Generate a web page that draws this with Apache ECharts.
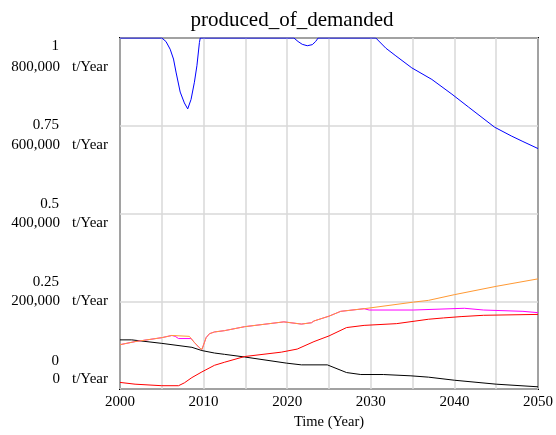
<!DOCTYPE html>
<html>
<head>
<meta charset="utf-8">
<script src="https://cdn.jsdelivr.net/npm/echarts@6/dist/echarts.min.js"></script>
<style>
  html, body { margin: 0; padding: 0; background: #fff; }
  #chart { width: 556px; height: 435px; }
</style>
</head>
<body>
<div id="chart"></div>
<script>
// produced_of_demanded (fraction, 0..1)
const fracYears = [2000, 2005, 2005.5, 2006, 2006.4, 2006.7, 2007.2, 2007.7, 2008.1, 2008.5, 2008.9, 2009.2, 2009.5, 2009.6,
  2020.8, 2021.3, 2021.8, 2022.4, 2023.0, 2023.4, 2023.7,
  2030.6, 2031.8, 2033, 2034.9, 2037.3, 2039.7, 2041.7, 2044.8, 2046.8, 2048.2, 2050];
const fracValues = [1, 1, 0.99, 0.968, 0.94, 0.903, 0.846, 0.815, 0.798, 0.825, 0.874, 0.921, 0.987, 1,
  1, 0.99, 0.982, 0.978, 0.981, 0.99, 1,
  1, 0.971, 0.949, 0.915, 0.882, 0.84, 0.803, 0.746, 0.721, 0.705, 0.685];

// orange series (t/Year)
const orangeYears = [2000, 2001.8, 2005, 2006.2, 2008.3, 2008.9, 2009.5, 2009.8, 2010.3, 2010.7, 2011.3, 2012.5, 2014.9,
  2019.6, 2021.7, 2022.9, 2023.2, 2025, 2026.4, 2029.2, 2035.1, 2036.9, 2040, 2045, 2050];
const orangeValues = [101000, 108000, 117000, 122000, 120000, 106000, 94000, 90000, 117000, 126000, 130000, 133000, 142000,
  153000, 148000, 151000, 155000, 166000, 177000, 183000, 198000, 202000, 215000, 234000, 251000];

// magenta series (t/Year)
const magentaYears = [2000, 2001.8, 2005, 2006.2, 2006.6, 2007.0, 2008.5, 2008.9, 2009.5, 2009.8, 2010.3, 2010.7, 2011.3, 2012.5, 2014.9,
  2019.6, 2021.7, 2022.9, 2023.2, 2025, 2026.4, 2029.2, 2029.8, 2035.1, 2035.3, 2041.2, 2041.4, 2043.5, 2043.7, 2048.2, 2048.4, 2050];
const magentaValues = [101000, 108000, 117000, 122000, 120000, 115000, 115000, 106000, 94000, 90000, 117000, 126000, 130000, 133000, 142000,
  153000, 148000, 151000, 155000, 166000, 177000, 183000, 180000, 180000, 184000, 184000, 180000, 180000, 177000, 177000, 174000, 174000];

// red series (t/Year)
const redYears = [2000, 2001.8, 2005, 2007, 2007.7, 2008.6, 2009.8, 2011.3, 2012.5, 2014.9, 2019.3, 2021.2, 2023.2, 2025,
  2027.1, 2029.2, 2033.1, 2036.9, 2038.7, 2040.8, 2043.5, 2050];
const redValues = [15000, 11000, 7500, 7500, 14000, 26000, 39000, 54000, 61000, 74000, 84000, 91000, 108000, 121000,
  140000, 145000, 149000, 159000, 162000, 165000, 168000, 170000];

// black series (t/Year)
const blackYears = [2000, 2001.4, 2001.6, 2005, 2008.6, 2009.8, 2011.3, 2012.5, 2014.9, 2019.9, 2021.7, 2024.8, 2027.1, 2028.8,
  2031.5, 2034.8, 2036.9, 2040, 2045, 2050];
const blackValues = [112000, 112000, 109000, 104000, 95000, 87600, 82000, 79000, 73000, 59000, 55000, 55000, 37500, 33000,
  33000, 30000, 27000, 20000, 11000, 5000];

// axis tick labels
const fracTicks = [0, 0.25, 0.5, 0.75, 1];
const fracTickText = ['0', '0.25', '0.5', '0.75', '1'];
const flowTicks = [0, 200000, 400000, 600000, 800000];
const flowTickText = ['0', '200,000', '400,000', '600,000', '800,000'];
const flowUnit = 't/Year';
const yearTicks = [2000, 2010, 2020, 2030, 2040, 2050];

const pairs = (xs, ys) => xs.map((x, i) => [x, ys[i]]);

const FONT = '"Liberation Serif", "Times New Roman", serif';
const chart = echarts.init(document.getElementById('chart'), null, { renderer: 'canvas' });

const lineSeries = (name, xs, ys, color, axis) => ({
  name, type: 'line', yAxisIndex: axis,
  data: pairs(xs, ys), showSymbol: false, symbol: 'none',
  lineStyle: { color, width: 1 }, animation: false
});

chart.setOption({
  animation: false,
  backgroundColor: '#ffffff',
  title: {
    text: 'produced_of_demanded',
    left: 287, top: 5, textAlign: 'center',
    textStyle: { fontFamily: FONT, fontSize: 21, fontWeight: 'normal', color: '#000' }
  },
  grid: {
    left: 120, right: 16, top: 38, bottom: 41,
    show: true, borderColor: '#000', borderWidth: 2, containLabel: false
  },
  xAxis: {
    type: 'value', min: 2000, max: 2050, interval: 5,
    name: 'Time (Year)', nameLocation: 'middle', nameGap: 26,
    nameTextStyle: { fontFamily: FONT, fontSize: 14.5, color: '#000' },
    axisLine: { show: false }, axisTick: { show: false },
    axisLabel: {
      fontFamily: FONT, fontSize: 15, color: '#000', margin: 6,
      customValues: yearTicks,
      formatter: v => String(v)
    },
    splitLine: { show: true, lineStyle: { color: '#d9d9d9', width: 1.5 } }
  },
  yAxis: [
    { // fraction scale, carries the grid lines
      type: 'value', min: 0, max: 1, interval: 0.25, position: 'left',
      axisLine: { show: false }, axisTick: { show: false }, axisLabel: { show: false },
      splitLine: { show: true, lineStyle: { color: '#d9d9d9', width: 1.5 } }
    },
    { // t/Year scale
      type: 'value', min: 0, max: 800000, interval: 200000, position: 'left',
      axisLine: { show: false }, axisTick: { show: false }, axisLabel: { show: false },
      splitLine: { show: false }
    },
    { // label column for the fraction scale
      type: 'value', min: -0.0875, max: 1.025, position: 'left',
      axisLine: { show: false }, axisTick: { show: false }, splitLine: { show: false },
      axisLabel: {
        customValues: fracTicks, margin: 61, align: 'right',
        fontFamily: FONT, fontSize: 15, color: '#000',
        formatter: v => fracTickText[fracTicks.indexOf(Math.round(v * 100) / 100)] || ''
      }
    },
    { // label column for the t/Year scale
      type: 'value', min: -25237, max: 873186, position: 'left',
      axisLine: { show: false }, axisTick: { show: false }, splitLine: { show: false },
      axisLabel: {
        customValues: flowTicks, margin: 12, align: 'right',
        fontFamily: FONT, fontSize: 15, color: '#000',
        formatter: v => {
          const t = flowTickText[flowTicks.indexOf(Math.round(v))];
          return t === undefined ? '' : '{n|' + t + '}{u|' + flowUnit + '}';
        },
        rich: {
          n: { fontFamily: FONT, fontSize: 15, color: '#000' },
          u: { fontFamily: FONT, fontSize: 15, color: '#000', padding: [0, 0, 0, 12] }
        }
      }
    }
  ],
  series: [
    lineSeries('black', blackYears, blackValues, '#000000', 1),
    lineSeries('red', redYears, redValues, '#ff0000', 1),
    lineSeries('magenta', magentaYears, magentaValues, '#ff00ff', 1),
    lineSeries('orange', orangeYears, orangeValues, '#ff9933', 1),
    lineSeries('produced_of_demanded', fracYears, fracValues, '#0000ff', 0)
  ]
});
</script>
</body>
</html>
